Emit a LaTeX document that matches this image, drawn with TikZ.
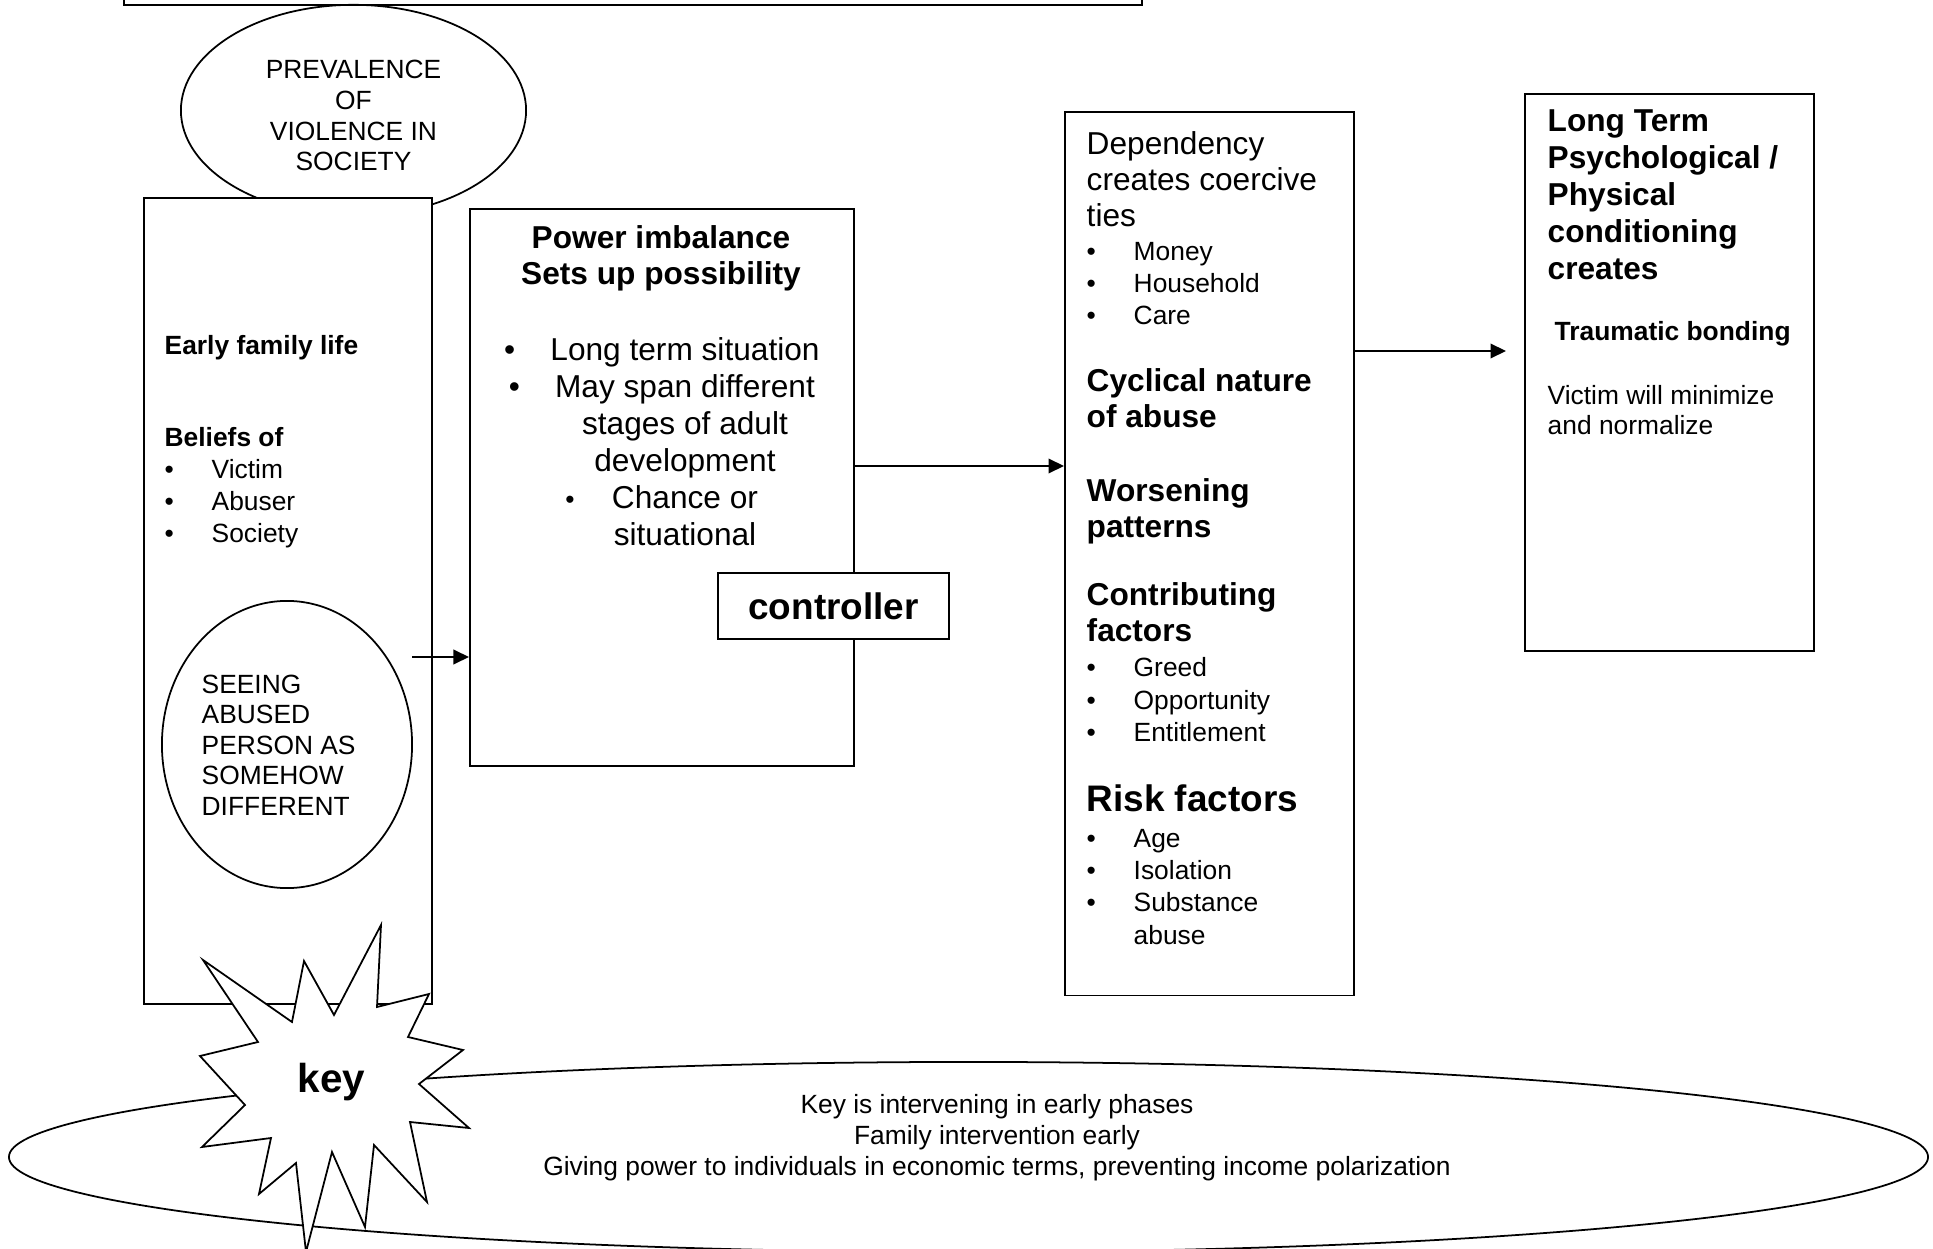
\documentclass[tikz,border=0pt]{standalone}
\usepackage{fontspec}
\setmainfont{Liberation Sans}
\usetikzlibrary{shapes.geometric,arrows.meta}

\newcommand{\bitem}[1]{\makebox[0.47cm][l]{\textbullet}#1}

\begin{document}
\begin{tikzpicture}[
    x=0.01cm, y=-0.01cm,
    box/.style={draw, rectangle, fill=white, line width=0.55pt, inner sep=0pt},
    oval/.style={draw, ellipse, line width=0.5pt, inner sep=0pt},
    txt/.style={inner sep=0pt, align=left, anchor=base west},
    ctxt/.style={inner sep=0pt, align=center, anchor=base},
    sm/.style={font=\fontsize{7.5pt}{9.1pt}\selectfont},
    smb/.style={font=\fontsize{7.5pt}{9.1pt}\selectfont\bfseries},
    md/.style={font=\fontsize{9pt}{10.25pt}\selectfont},
    mdb/.style={font=\fontsize{9pt}{10.25pt}\selectfont\bfseries},
    arrow/.style={-{Triangle[length=1.55mm, width=1.45mm]}, line width=0.55pt}
]
\useasboundingbox (0,0) rectangle (1933,1249);
% (multi-line texts sit on the baseline of their last line)

% Box cut off at the top
\node[box, anchor=south west, minimum width=10.17cm, minimum height=0.5cm] (topbox) at (123,6) {};

% Prevalence of violence
\node[oval, minimum width=3.45cm, minimum height=2.11cm] (prev) at (353.5,110.4) {};

% Early family life
\node[box, anchor=north west, minimum width=2.88cm, minimum height=8.06cm] (early) at (143,197) {};
\node[ctxt, font=\fontsize{7.5pt}{8.8pt}\selectfont] (prevtxt) at (353.5,171) {PREVALENCE\\OF\\VIOLENCE IN\\SOCIETY};
\node[txt, smb] (familytxt) at (164,355) {Early family life};
\node[txt, sm] (beliefstxt) at (164,543) {\textbf{Beliefs of}\\\bitem{Victim}\\\bitem{Abuser}\\\bitem{Society}};

\node[oval, minimum width=2.5cm, minimum height=2.87cm] (seeing) at (287,744.5) {};
\node[txt, font=\fontsize{7.5pt}{8.65pt}\selectfont] (seeingtxt) at (201,815) {SEEING\\ABUSED\\PERSON AS\\SOMEHOW\\DIFFERENT};

% Power imbalance
\node[box, anchor=north west, minimum width=3.84cm, minimum height=5.57cm] (power) at (469,208) {};
\node[ctxt, mdb] (powerhead) at (661,285) {Power imbalance\\Sets up possibility};
\node[ctxt, font=\fontsize{9pt}{10.5pt}\selectfont] (powerlist) at (685,545.5) {%
    \llap{\textbullet\hspace{10pt}}Long term situation\\
    \llap{\textbullet\hspace{10pt}}May span different\\
    stages of adult\\
    development\\
    \llap{{\fontsize{7.5pt}{9pt}\selectfont\textbullet}\hspace{10.6pt}}Chance or\\
    situational};
\node[box, minimum width=2.31cm, minimum height=0.66cm, font=\fontsize{10.5pt}{12pt}\selectfont\bfseries] (ctrl) at (833.5,606) {controller};

% Dependency
\node[box, anchor=north west, minimum width=2.89cm, minimum height=8.83cm] (dep) at (1064,111) {};
\node[txt, md] (dep1) at (1086,226.5) {Dependency\\creates coercive\\ties};
\node[txt, font=\fontsize{7.5pt}{9.15pt}\selectfont] (dep2) at (1086,325) {\bitem{Money}\\\bitem{Household}\\\bitem{Care}};
\node[txt, mdb] (dep3) at (1086,427.6) {Cyclical nature\\of abuse};
\node[txt, mdb] (dep4) at (1086,537.8) {Worsening\\patterns};
\node[txt, mdb] (dep5) at (1086,641.2) {Contributing\\factors};
\node[txt, font=\fontsize{7.5pt}{9.15pt}\selectfont] (dep6) at (1086,741.3) {\bitem{Greed}\\\bitem{Opportunity}\\\bitem{Entitlement}};
\node[txt, font=\fontsize{10.5pt}{12pt}\selectfont\bfseries] (dep7) at (1086,811.8) {Risk factors};
\node[txt, font=\fontsize{7.5pt}{9.15pt}\selectfont] (dep8) at (1086,944) {\bitem{Age}\\\bitem{Isolation}\\\bitem{Substance}\\\makebox[0.47cm]{}abuse};

% Long term conditioning
\node[box, anchor=north west, minimum width=2.89cm, minimum height=5.57cm] (longterm) at (1524,93) {};
\node[txt, font=\fontsize{9pt}{10.5pt}\selectfont\bfseries] (lt1) at (1547,279.6) {Long Term\\Psychological /\\Physical\\conditioning\\creates};
\node[txt, smb] (lt2) at (1554,340.8) {Traumatic bonding};
\node[txt, font=\fontsize{7.5pt}{8.8pt}\selectfont] (lt3) at (1547,435) {Victim will minimize\\and normalize};

% Arrows
\coordinate (seeout) at (412,657);
\coordinate (ltin) at (1506,351);
\draw[arrow] (seeout) -- (power.west |- seeout);
\draw[arrow] (power.east |- 0,466) -- (dep.west |- 0,466);
\draw[arrow] (dep.east |- ltin) -- (ltin);

% Key
\node[oval, minimum width=19.18cm, minimum height=1.9cm] (keyoval) at (968.5,1157) {};
\node[ctxt, font=\fontsize{7.5pt}{8.7pt}\selectfont] (keytxt) at (997,1175) {Key is intervening in early phases\\Family intervention early\\Giving power to individuals in economic terms, preventing income polarization};
\draw[line width=0.5pt, fill=white] (203,960) -- (292,1022) -- (304,961) -- (334,1015) -- (381,925) -- (377,1007)
    -- (429,994) -- (408,1037) -- (463,1050) -- (419,1084) -- (469,1128) -- (410,1122) -- (427,1202)
    -- (374,1145) -- (365,1227) -- (332,1152) -- (306,1252) -- (296,1163) -- (259,1194) -- (271,1138)
    -- (202,1147) -- (245,1105) -- (200,1056) -- (258,1042) -- cycle;
\node[ctxt, font=\fontsize{11.5pt}{13pt}\selectfont\bfseries] (keystar) at (331.5,1092.7) {key};

\end{tikzpicture}
\end{document}
